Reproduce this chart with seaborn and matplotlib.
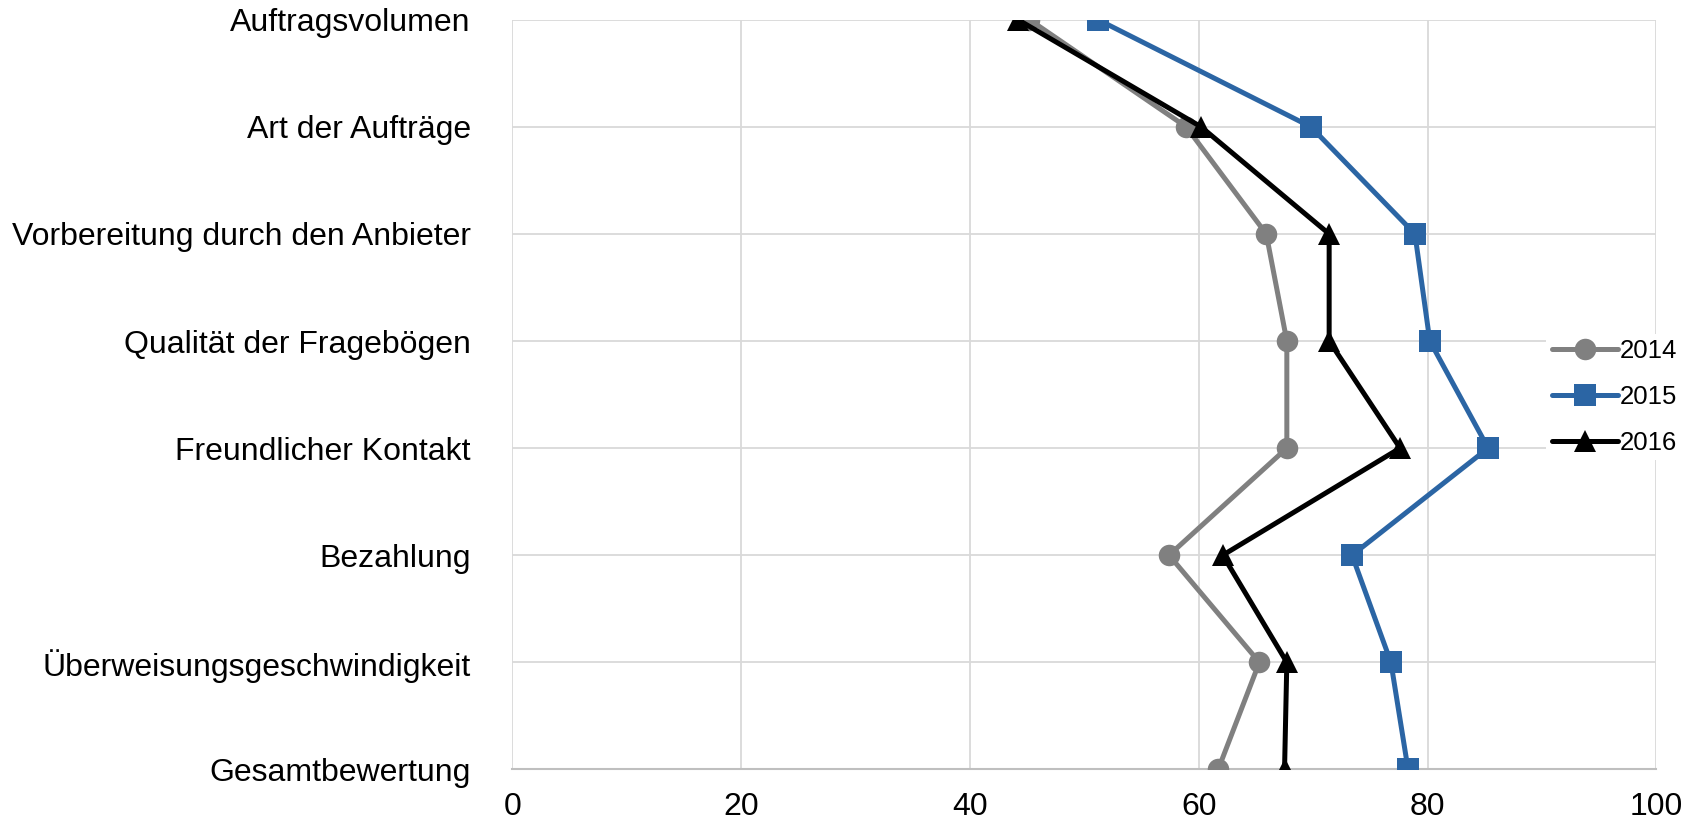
import pandas as pd
import numpy as np
import matplotlib
matplotlib.use("Agg")
import matplotlib.pyplot as plt
import seaborn as sns

# Kategorien (von oben nach unten)
kategorien = ["Auftragsvolumen", "Art der Aufträge", "Vorbereitung durch den Anbieter",
              "Qualität der Fragebögen", "Freundlicher Kontakt", "Bezahlung",
              "Überweisungsgeschwindigkeit", "Gesamtbewertung"]

# Werte je Jahr
werte_2014 = [45.2, 58.9, 65.9, 67.7, 67.7, 57.4, 65.3, 61.7]
werte_2015 = [51.2, 69.8, 78.9, 80.2, 85.3, 73.4, 76.8, 78.3]
werte_2016 = [44.2, 60.2, 71.4, 71.4, 77.6, 62.1, 67.7, 67.5]

jahre = ["2014", "2015", "2016"]
x_ticks = [0, 20, 40, 60, 80, 100]

# Long-Format fuer seaborn
df = pd.DataFrame({
    "pos": list(range(len(kategorien))) * 3,
    "wert": werte_2014 + werte_2015 + werte_2016,
    "jahr": np.repeat(jahre, len(kategorien)),
})

sns.set_style("white")
plt.rcParams["font.family"] = ["Liberation Sans", "DejaVu Sans"]
plt.rcParams["text.color"] = "black"
plt.rcParams["xtick.color"] = "black"
plt.rcParams["ytick.color"] = "black"

fig = plt.figure(figsize=(16.97, 8.22), dpi=100)
ax = fig.add_axes([0.302, 0.064, 0.674, 0.912])

farben = {"2014": "#808080", "2015": "#2B65A4", "2016": "#000000"}
marker = {"2014": "o", "2015": "s", "2016": "^"}

# orient="y": Linie folgt den Kategorien, keine Mittelung gleicher x-Werte
sns.lineplot(data=df, x="wert", y="pos", hue="jahr", style="jahr",
             palette=farben, markers=marker, dashes=False, orient="y",
             estimator=None, linewidth=3.6, markersize=15.5, markeredgewidth=0,
             ax=ax, zorder=3)

ax.set_xlim(0, 100)
ax.set_ylim(len(kategorien) - 1, 0)
ax.set_xticks(x_ticks)
ax.set_yticks(range(len(kategorien)))
ax.set_yticklabels(kategorien)
ax.set_xlabel("")
ax.set_ylabel("")
ax.grid(True, color="#d9d9d9", linewidth=1.3, zorder=0)
ax.set_axisbelow(True)
for s in ["top", "right", "left"]:
    ax.spines[s].set_visible(False)
ax.spines["bottom"].set_color("#bfbfbf")
ax.spines["bottom"].set_linewidth(1.5)
ax.tick_params(axis="y", length=0, pad=30, labelsize=23)
ax.tick_params(axis="x", length=0, pad=16, labelsize=23)

leg = ax.legend(loc="center left", bbox_to_anchor=(0.904, 0.497), frameon=True,
                fontsize=18.5, handlelength=2.6, handletextpad=0.05,
                labelspacing=0.85, borderaxespad=0, borderpad=0.2)
leg.get_frame().set_facecolor("white")
leg.get_frame().set_edgecolor("none")
leg.get_frame().set_alpha(1)
for line in leg.get_lines():
    line.set_linewidth(3.6)

fig.savefig("out.png", dpi=100)
